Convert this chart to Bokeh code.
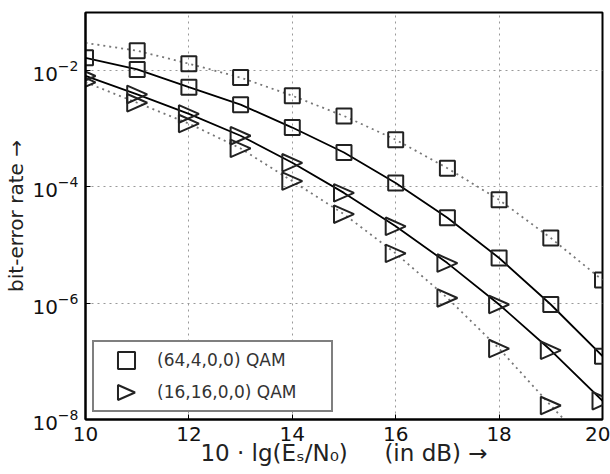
from bokeh.plotting import figure
from bokeh.models import FixedTicker, Legend, LegendItem, CustomJS
from bokeh.core.properties import value
from bokeh.embed import file_html
from bokeh.resources import INLINE

# ---- data ----
snr_db = [10, 11, 12, 13, 14, 15, 16, 17, 18, 19, 20]
ber_64_mid = [1.66e-2, 1.05e-2, 5.2e-3, 2.6e-3, 1.05e-3, 3.9e-4, 1.17e-4, 2.95e-5, 6.0e-6, 9.5e-7, 1.23e-7]
ber_64_upper = [3.0e-2, 2.2e-2, 1.32e-2, 7.6e-3, 3.7e-3, 1.66e-3, 6.5e-4, 2.1e-4, 6.0e-5, 1.32e-5, 2.5e-6]
ber_16_mid = [8.1e-3, 3.9e-3, 1.8e-3, 7.6e-4, 2.6e-4, 7.9e-5, 2.1e-5, 4.9e-6, 9.5e-7, 1.55e-7, 2.1e-8]
ber_16_lower = [6.3e-3, 2.8e-3, 1.23e-3, 4.6e-4, 1.26e-4, 3.4e-5, 7.2e-6, 1.23e-6, 1.66e-7, 1.74e-8, 2.0e-9]
x_ticks = [10, 12, 14, 16, 18, 20]
y_ticks = [1e-8, 1e-6, 1e-4, 1e-2]
labels = ["(64,4,0,0) QAM", "(16,16,0,0) QAM"]

FONT = "DejaVu Sans"
K = 1.33  # enlargement of the legend glyphs


def tri_right(scale):
    return CustomJS(code=f"""
export default (args, obj, {{ctx, i, r, visuals}}) => {{
  const a = {scale} * r
  ctx.beginPath()
  ctx.moveTo(a, 0)
  ctx.lineTo(-a, -0.88 * a)
  ctx.lineTo(-a, 0.88 * a)
  ctx.closePath()
  visuals.line.apply(ctx, i)
}}""")


marker_defs = {
    "@sq": CustomJS(code=f"""
export default (args, obj, {{ctx, i, r, visuals}}) => {{
  const a = {K} * r
  ctx.beginPath()
  ctx.rect(-a, -a, 2 * a, 2 * a)
  visuals.line.apply(ctx, i)
}}"""),
    "@tri_right": tri_right(K),
    "@tri_data": tri_right(1.0),
}

p = figure(width=610, height=474, x_range=(10, 20), y_range=(1e-8, 1e-1),
           y_axis_type="log", output_backend="svg", toolbar_location=None,
           min_border_left=85, min_border_right=8, min_border_top=12,
           min_border_bottom=55)
p.background_fill_color = "white"
p.border_fill_color = "white"
p.outline_line_color = "black"
p.outline_line_width = 2

# grid
p.xgrid.ticker = FixedTicker(ticks=x_ticks)
p.ygrid.ticker = FixedTicker(ticks=y_ticks)
for g in (p.xgrid, p.ygrid):
    g.grid_line_color = "#999999"
    g.grid_line_dash = "2 4"
    g.grid_line_width = 1

# axes
p.xaxis.ticker = FixedTicker(ticks=x_ticks)
p.yaxis.ticker = FixedTicker(ticks=y_ticks)
for ax in (p.xaxis, p.yaxis):
    ax.major_tick_in = 5
    ax.major_tick_out = 0
    ax.minor_tick_line_color = None
    ax.axis_line_color = "black"
    ax.axis_line_width = 2
    ax.major_tick_line_color = "black"
    ax.major_label_text_font = FONT
    ax.major_label_text_font_size = "20px"
    ax.major_label_text_color = "#111111"
    ax.axis_label_text_font = FONT
    ax.axis_label_text_font_style = "normal"
    ax.axis_label_text_color = "#222222"

p.xaxis.axis_label = "10 · lg(Eₛ/N₀)\u00a0\u00a0\u00a0\u00a0\u00a0(in\u00a0dB) →"
p.xaxis.axis_label_text_font_size = "23px"
p.xaxis.major_label_standoff = 7
p.xaxis.axis_label_standoff = -4
p.yaxis.axis_label = "bit-error rate →"
p.yaxis.axis_label_text_font_size = "20px"
p.yaxis.axis_label_standoff = 1
p.yaxis.major_label_standoff = 7

# curves
p.line(snr_db, ber_64_upper, line_color="#777777", line_width=1.8, line_dash="2 4")
p.line(snr_db, ber_16_lower, line_color="#777777", line_width=1.8, line_dash="2 4")
p.line(snr_db, ber_64_mid, line_color="black", line_width=1.8)
p.line(snr_db, ber_16_mid, line_color="black", line_width=1.8)

# data markers
sq_kw = dict(marker="square", size=15, fill_color=None, line_color="#222222", line_width=2)
tr_kw = dict(marker=value("@tri_data"), defs=marker_defs, size=20, fill_color=None,
             line_color="#222222", line_width=2)
p.scatter(snr_db, ber_64_mid, **sq_kw)
p.scatter(snr_db[1:], ber_64_upper[1:], **sq_kw)
p.scatter(snr_db, ber_16_mid, **tr_kw)
p.scatter(snr_db[:-1], ber_16_lower[:-1], **tr_kw)

# legend glyph renderers (hidden in the plot, shown in the legend)
lg_sq = p.scatter(snr_db, ber_64_mid, marker=value("@sq"), defs=marker_defs, size=10,
                  fill_color=None, line_color="#222222", line_width=2, visible=False)
lg_tr = p.scatter(snr_db, ber_16_mid, marker=value("@tri_right"), defs=marker_defs, size=10,
                  fill_color=None, line_color="#222222", line_width=2, visible=False)

legend = Legend(items=[LegendItem(label=labels[0], renderers=[lg_sq]),
                       LegendItem(label=labels[1], renderers=[lg_tr])],
                location="bottom_left")
legend.label_text_font = FONT
legend.label_text_font_size = "17px"
legend.label_text_color = "#333333"
legend.border_line_color = "black"
legend.border_line_width = 2
legend.background_fill_alpha = 1
legend.glyph_width = 60
legend.glyph_height = 32
legend.label_height = 32
legend.label_width = 172
legend.label_standoff = 1
legend.spacing = 0
legend.padding = 2
legend.margin = 7
p.add_layout(legend, "center")

open("out.html", "w").write(file_html(p, INLINE))
